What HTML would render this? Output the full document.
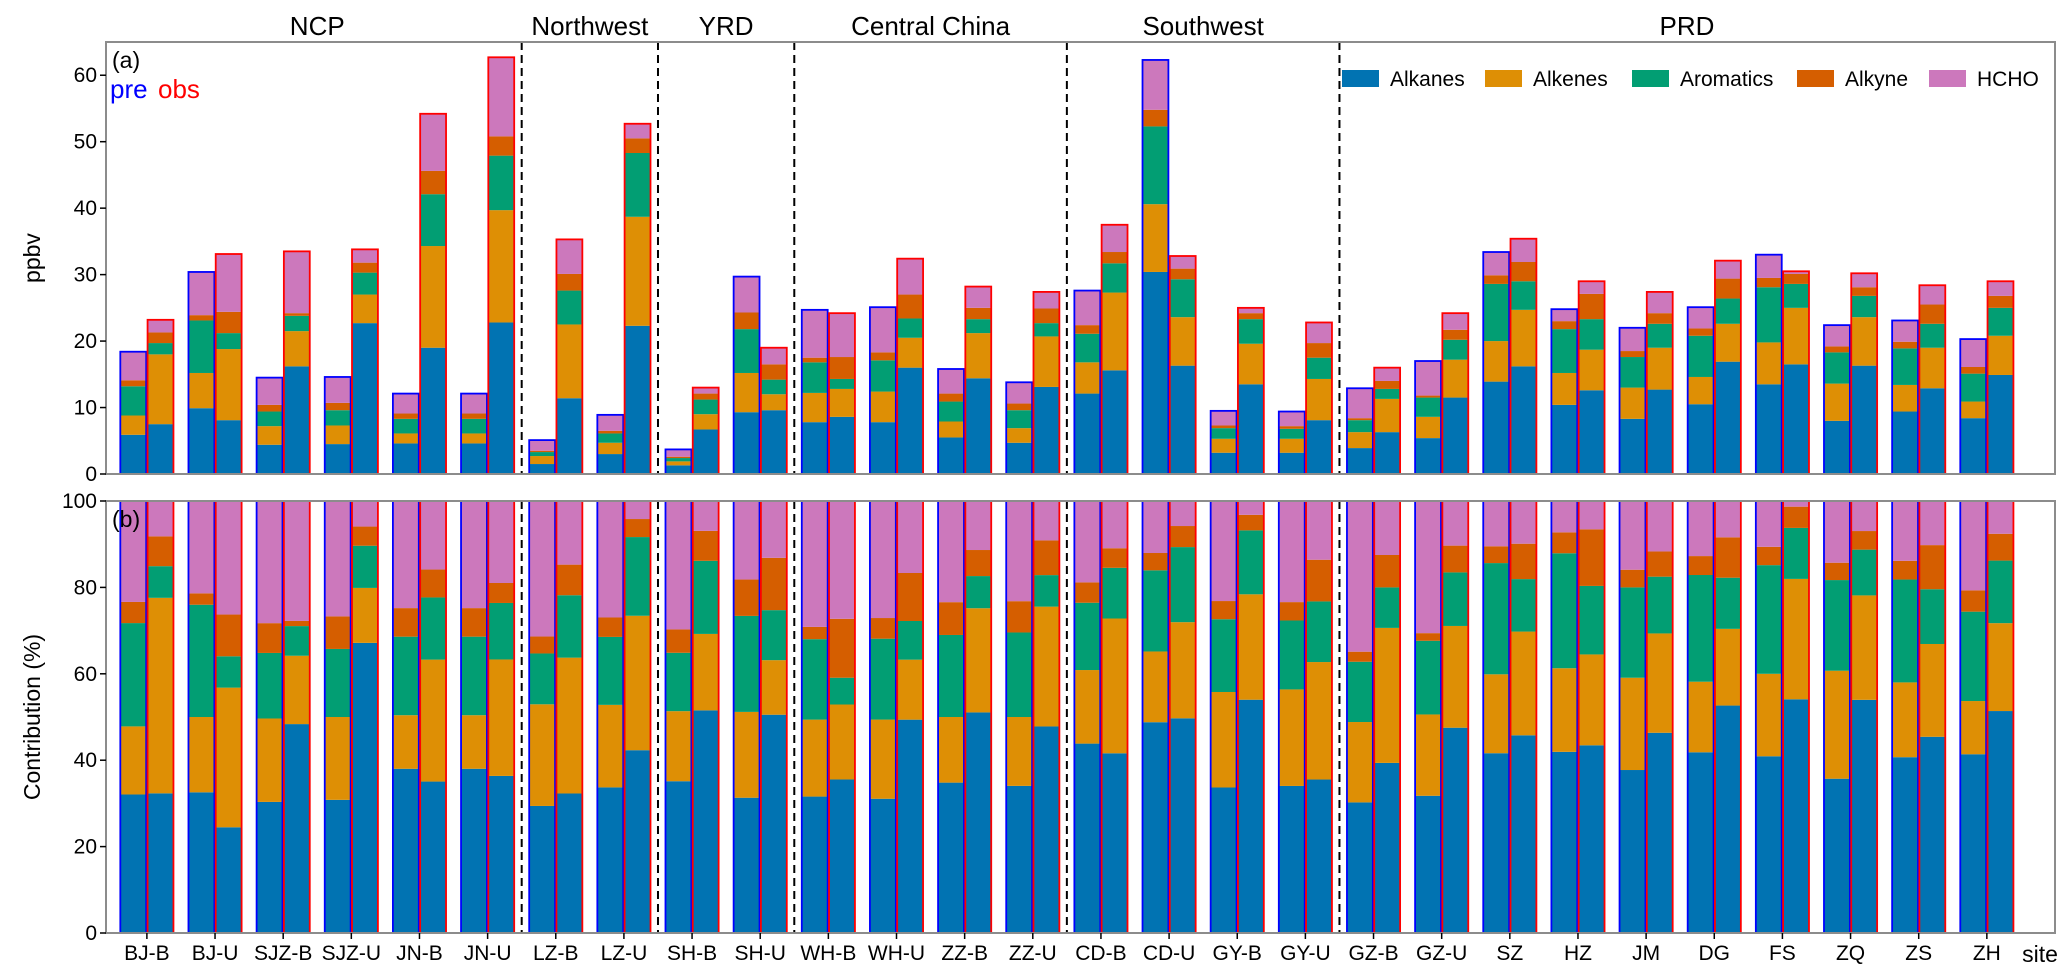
<!DOCTYPE html>
<html><head><meta charset="utf-8"><style>
html,body{margin:0;padding:0;background:#fff;}
svg{display:block;font-family:"Liberation Sans","DejaVu Sans",sans-serif;}
</style></head><body>
<svg id="chart" width="2067" height="968" viewBox="0 0 2067 968"></svg>
<script>
const sites = ["BJ-B","BJ-U","SJZ-B","SJZ-U","JN-B","JN-U","LZ-B","LZ-U","SH-B","SH-U","WH-B","WH-U","ZZ-B","ZZ-U","CD-B","CD-U","GY-B","GY-U","GZ-B","GZ-U","SZ","HZ","JM","DG","FS","ZQ","ZS","ZH"];
const categories = ["Alkanes","Alkenes","Aromatics","Alkyne","HCHO"];
const preAlkanes   = [5.9,9.9,4.4,4.5,4.6,4.6,1.5,3.0,1.3,9.3,7.8,7.8,5.5,4.7,12.1,30.4,3.2,3.2,3.9,5.4,13.9,10.4,8.3,10.5,13.5,8.0,9.4,8.4];
const preAlkenes   = [2.9,5.3,2.8,2.8,1.5,1.5,1.2,1.7,0.6,5.9,4.4,4.6,2.4,2.2,4.7,10.2,2.1,2.1,2.4,3.2,6.1,4.8,4.7,4.1,6.3,5.6,4.0,2.5];
const preAromatics = [4.4,7.9,2.2,2.3,2.2,2.2,0.6,1.4,0.5,6.6,4.6,4.7,3.0,2.7,4.3,11.7,1.6,1.5,1.8,2.9,8.6,6.6,4.6,6.2,8.3,4.7,5.5,4.2];
const preAlkyne    = [0.9,0.8,1.0,1.1,0.8,0.8,0.2,0.4,0.2,2.5,0.7,1.2,1.2,1.0,1.3,2.5,0.4,0.4,0.3,0.3,1.3,1.2,0.9,1.1,1.4,0.9,1.0,1.0];
const preHCHO      = [4.3,6.5,4.1,3.9,3.0,3.0,1.6,2.4,1.1,5.4,7.2,6.8,3.7,3.2,5.2,7.5,2.2,2.2,4.5,5.2,3.5,1.8,3.5,3.2,3.5,3.2,3.2,4.2];
const obsAlkanes   = [7.5,8.1,16.2,22.7,19.0,22.8,11.4,22.3,6.7,9.6,8.6,16.0,14.4,13.1,15.6,16.3,13.5,8.1,6.3,11.5,16.2,12.6,12.7,16.9,16.5,16.3,12.9,14.9];
const obsAlkenes   = [10.5,10.7,5.3,4.3,15.3,16.9,11.1,16.4,2.3,2.4,4.2,4.5,6.8,7.6,11.7,7.3,6.1,6.2,5.0,5.7,8.5,6.1,6.3,5.7,8.5,7.3,6.1,5.9];
const obsAromatics = [1.7,2.4,2.3,3.3,7.8,8.2,5.1,9.6,2.2,2.2,1.5,2.9,2.1,2.0,4.4,5.7,3.7,3.2,1.5,3.0,4.3,4.6,3.6,3.8,3.6,3.2,3.6,4.2];
const obsAlkyne    = [1.6,3.2,0.4,1.5,3.5,2.9,2.5,2.2,0.9,2.3,3.3,3.6,1.7,2.2,1.7,1.6,0.9,2.2,1.2,1.5,2.9,3.8,1.6,3.0,1.5,1.3,2.9,1.8];
const obsHCHO      = [1.9,8.7,9.3,2.0,8.6,11.9,5.2,2.2,0.9,2.5,6.6,5.4,3.2,2.5,4.1,1.9,0.8,3.1,2.0,2.5,3.5,1.9,3.2,2.7,0.4,2.1,2.9,2.2];
const yTicksA = [0,10,20,30,40,50,60];
const yTicksB = [0,20,40,60,80,100];
const groups = ["NCP","Northwest","YRD","Central China","Southwest","PRD"];
const groupCenters = [2.5,6.5,8.5,11.5,15.5,22.6];
const dividers = [5.5,7.5,9.5,13.5,17.5];

const colors = ["#0173b2","#de8f05","#029e73","#d55e00","#cc78bc"];
const NS = "http://www.w3.org/2000/svg";
const svg = document.getElementById("chart");
const L = 106, R = 2055;
const A = {top:42, bot:474, max:65};
const B = {top:501, bot:933, max:100};
const xmin = -0.6, xmax = 28.0;
function xs(v){ return L + (v - xmin) / (xmax - xmin) * (R - L); }
function ysA(v){ return A.bot - v / A.max * (A.bot - A.top); }
function ysB(v){ return B.bot - v / B.max * (B.bot - B.top); }
function mk(tag, attrs, parent){
  const e = document.createElementNS(NS, tag);
  for (const k in attrs) e.setAttribute(k, attrs[k]);
  (parent || svg).appendChild(e);
  return e;
}
function txt(s, attrs){ const t = mk("text", attrs); t.textContent = s; return t; }

const pre = [preAlkanes,preAlkenes,preAromatics,preAlkyne,preHCHO];
const obs = [obsAlkanes,obsAlkenes,obsAromatics,obsAlkyne,obsHCHO];
const bw = 0.38;

function drawPanel(ys, pct, panelName){
  const g = mk("g", {});
  
  
  [[pre,-0.2,"#0000ff","pre"],[obs,0.2,"#ff0000","obs"]].forEach(([ser,off,edge,kind]) => {
    for (let i = 0; i < sites.length; i++){
      let total = 0; for (let c = 0; c < 5; c++) total += ser[c][i];
      let cum = 0;
      const x0 = xs(i + off - bw/2), x1 = xs(i + off + bw/2);
      for (let c = 0; c < 5; c++){
        const v = pct ? ser[c][i] / total * 100 : ser[c][i];
        const y0 = ys(cum), y1 = ys(cum + v);
        const r = mk("rect", {x:x0, y:y1, width:x1-x0, height:Math.max(0,y0-y1), fill:colors[c]}, g);
        
        
        cum += v;
      }
      const o = mk("rect", {x:x0, y:ys(cum), width:x1-x0, height:ys(0)-ys(cum), fill:"none", stroke:edge, "stroke-width":1.8}, g);
      
      
    }
  });
}

function axes(top, bot, ticks, ys, label, tag, panelName){
  dividers.forEach(d => {
    const l = mk("line", {x1:xs(d), x2:xs(d), y1:top, y2:bot, stroke:"#000", "stroke-width":2, "stroke-dasharray":"8,5"});
    
    
  });
  const f = mk("rect", {x:L, y:top, width:R-L, height:bot-top, fill:"none", stroke:"#8c8c8c", "stroke-width":2});
  
  
  ticks.forEach(t => {
    const y = ys(t);
    const tl = mk("line", {x1:L-6, x2:L, y1:y, y2:y, stroke:"#000", "stroke-width":1.5});
    
    
    const tt = txt(String(t), {x:L-9, y:y+7, "text-anchor":"end", "font-size":21, fill:"#000"});
    
    
  });
  const yl = txt(label, {x:0, y:0, transform:`translate(40,${(top+bot)/2}) rotate(-90)`, "text-anchor":"middle", "font-size":23, fill:"#000"});
  
  
  const pl = txt(tag, {x:L+6, y:top+26, "font-size":23, fill:"#000"});
  
  
}

drawPanel(ysA, false, 'panel-a');
drawPanel(ysB, true, 'panel-b');
axes(A.top, A.bot, yTicksA, ysA, "ppbv", "(a)", 'panel-a');
axes(B.top, B.bot, yTicksB, ysB, "Contribution (%)", "(b)", 'panel-b');

sites.forEach((s, i) => {
  const tk = mk("line", {x1:xs(i), x2:xs(i), y1:B.bot, y2:B.bot+6, stroke:"#000", "stroke-width":1.5});
  
  
  const t = txt(s, {x:xs(i), y:B.bot+27, "text-anchor":"middle", "font-size":21, fill:"#000"});
  
  
});
const xl = txt("site", {x:2040, y:B.bot+29, "text-anchor":"middle", "font-size":23, fill:"#000"});



groups.forEach((gname, k) => {
  const t = txt(gname, {x:xs(groupCenters[k]), y:35, "text-anchor":"middle", "font-size":26, fill:"#000"});
  
  
});

const preT = txt("pre", {x:110, y:98, "font-size":26, fill:"#0000ff"});


const obsT = txt("obs", {x:158, y:98, "font-size":26, fill:"#ff0000"});



const legX = [1342,1485,1632,1797,1929];
const lg = mk("g", {});


categories.forEach((c, k) => {
  const p = mk("rect", {x:legX[k], y:70, width:37, height:17, fill:colors[k]}, lg);
  
  
  const t = document.createElementNS(NS, "text");
  t.setAttribute("x", legX[k] + 48); t.setAttribute("y", 86); t.setAttribute("font-size", 21); t.setAttribute("fill", "#000");
  t.textContent = c;
  
  
  lg.appendChild(t);
});
</script>
</body></html>
